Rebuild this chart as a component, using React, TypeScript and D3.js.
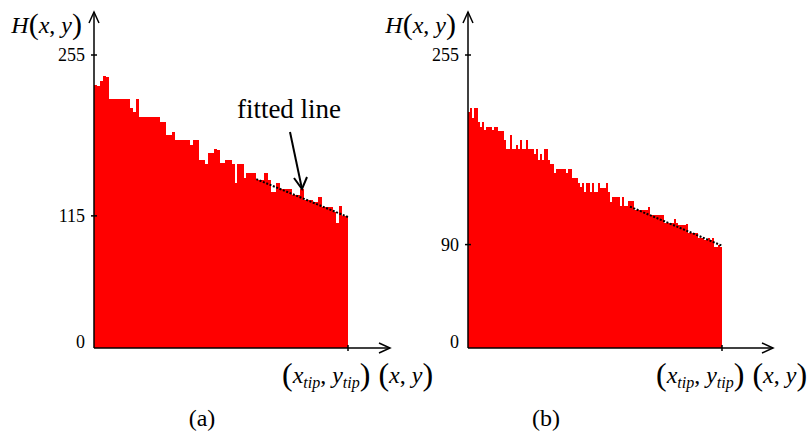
import React from 'react';
import * as d3 from 'd3';

// bar heights (grey level, 0..255)
const leftValues = [
  229, 228, 232, 237, 236, 217, 217, 217, 217, 217, 217, 217, 209, 205, 217,
  201, 201, 201, 201, 201, 201, 201, 197, 197, 185, 185, 188, 181, 181, 181,
  181, 181, 177, 181, 181, 164, 164, 160, 170, 170, 173, 172, 161, 161, 164,
  164, 160, 144, 160, 160, 148, 152, 152, 152, 146, 146, 146, 152, 146, 136,
  136, 144, 138, 138, 138, 138, 133, 133, 133, 138, 129, 129, 129, 127, 127,
  131, 123, 123, 123, 123, 118, 109, 124, 115, 115,
];

const rightValues = [
  205, 209, 200, 209, 209, 197, 192, 197, 190, 192, 192, 192, 190, 192, 192,
  189, 189, 189, 181, 173, 173, 185, 173, 173, 177, 173, 181, 173, 173, 181,
  173, 173, 173, 169, 173, 164, 169, 164, 173, 173, 164, 160, 160, 152, 156,
  156, 156, 156, 156, 152, 156, 156, 148, 148, 148, 144, 140, 144, 136, 144,
  144, 136, 144, 136, 136, 144, 139, 139, 139, 144, 136, 127, 131, 131, 131,
  131, 124, 131, 124, 124, 128, 128, 128, 120, 120, 120, 120, 120, 120, 120,
  123, 116, 116, 116, 116, 116, 116, 116, 109, 109, 109, 109, 109, 112, 109,
  107, 107, 107, 107, 108, 100, 100, 100, 100, 100, 96, 96, 96, 94, 94,
  96, 94, 96, 88, 88, 90, 88,
];

const leftTicks = [0, 115, 255];
const rightTicks = [0, 90, 255];

// fitted line end points: [bar index, value]
const leftFit: [number, number][] = [[54.3, 147], [85, 114]];
const rightFit: [number, number][] = [[81, 123], [127, 89]];

const captions = ['(a)', '(b)'];

const serif = 'Liberation Serif, Times New Roman, serif';
const RED = '#ff0000';

const y = d3.scaleLinear().domain([0, 255]).range([348, 55]);

type PanelProps = {
  values: number[];
  ticks: number[];
  fit: [number, number][];
  axisX: number;
  tipX: number;
  arrowX: number;
  caption: string;
  captionX: number;
};

const Panel = ({ values, ticks, fit, axisX, tipX, arrowX, caption, captionX }: PanelProps) => {
  const x = d3.scaleLinear().domain([0, values.length]).range([axisX, tipX]);
  const base = y(0);
  const fitLine = d3.line<[number, number]>()
    .x(d => x(d[0]))
    .y(d => y(d[1]));

  return (
    <g>
      {values.map((v, i) => (
        <rect key={i} x={x(i)} y={y(v)} width={x(i + 1) - x(i) + 0.4} height={base - y(v)}
          fill={RED} shapeRendering="crispEdges" />
      ))}
      <path d={fitLine(fit) || ''} stroke="#000" strokeWidth={2} strokeDasharray="2,1.6" fill="none" />

      {/* axes */}
      <line x1={axisX} y1={base} x2={axisX} y2={12} stroke="#000" strokeWidth={1.5} />
      <path d={`M${axisX - 5},${23} L${axisX},${12} L${axisX + 5},${23}`} stroke="#000" strokeWidth={1.5} fill="none" />
      <line x1={axisX} y1={base} x2={arrowX} y2={base} stroke="#000" strokeWidth={1.5} />
      <path d={`M${arrowX - 11},${base - 5} L${arrowX},${base} L${arrowX - 11},${base + 5}`} stroke="#000" strokeWidth={1.5} fill="none" />
      <line x1={tipX} y1={base - 3} x2={tipX} y2={base + 3} stroke="#000" strokeWidth={1.5} />

      {ticks.map(t => (
        <g key={t}>
          {t > 0 && <line x1={axisX - 3} x2={axisX + 3} y1={y(t)} y2={y(t)} stroke="#000" strokeWidth={1.5} />}
          <text x={axisX - 9} y={Math.min(y(t), base - 6)} dy="0.35em" textAnchor="end"
            fontFamily={serif} fontSize={18}>{t}</text>
        </g>
      ))}

      {/* H(x, y) */}
      <text x={axisX - 12} y={33} textAnchor="end" fontFamily={serif} fontSize={24}>
        <tspan fontStyle="italic">H</tspan>
        <tspan fontSize={30} dy={1}>(</tspan>
        <tspan fontStyle="italic" dy={-1}>x</tspan>
        <tspan>, </tspan>
        <tspan fontStyle="italic">y</tspan>
        <tspan fontSize={30} dy={1}>)</tspan>
      </text>

      {/* (x_tip, y_tip)  (x, y) */}
      <text x={tipX - 66} y={383} fontFamily={serif} fontSize={24}>
        <tspan fontSize={32} dy={2}>(</tspan>
        <tspan fontStyle="italic" dy={-2}>x</tspan>
        <tspan fontStyle="italic" fontSize={16} dy={5}>tip</tspan>
        <tspan dy={-5}>, </tspan>
        <tspan fontStyle="italic">y</tspan>
        <tspan fontStyle="italic" fontSize={16} dy={5}>tip</tspan>
        <tspan fontSize={32} dy={-3}>)</tspan>
        <tspan fontSize={32} dx={8}>(</tspan>
        <tspan fontStyle="italic" dy={-2}>x</tspan>
        <tspan>, </tspan>
        <tspan fontStyle="italic">y</tspan>
        <tspan fontSize={32} dy={2}>)</tspan>
      </text>

      <text x={captionX} y={426} textAnchor="middle" fontFamily={serif} fontSize={24}>{caption}</text>
    </g>
  );
};

export default function App() {
  return (
    <svg width={810} height={443} style={{ position: 'absolute', left: 0, top: 0, background: '#fff' }}>
      <Panel values={leftValues} ticks={leftTicks} fit={leftFit} axisX={94} tipX={348} arrowX={390}
        caption={captions[0]} captionX={202} />
      <Panel values={rightValues} ticks={rightTicks} fit={rightFit} axisX={468} tipX={722} arrowX={773}
        caption={captions[1]} captionX={546} />

      {/* annotation on panel (a) */}
      <text x={289} y={118} textAnchor="middle" fontFamily={serif} fontSize={27}>fitted line</text>
      <line x1={290} y1={132} x2={302} y2={189} stroke="#000" strokeWidth={2} />
      <path d="M294,178 L302,189 L307,177" stroke="#000" strokeWidth={2} fill="none" />
    </svg>
  );
}
